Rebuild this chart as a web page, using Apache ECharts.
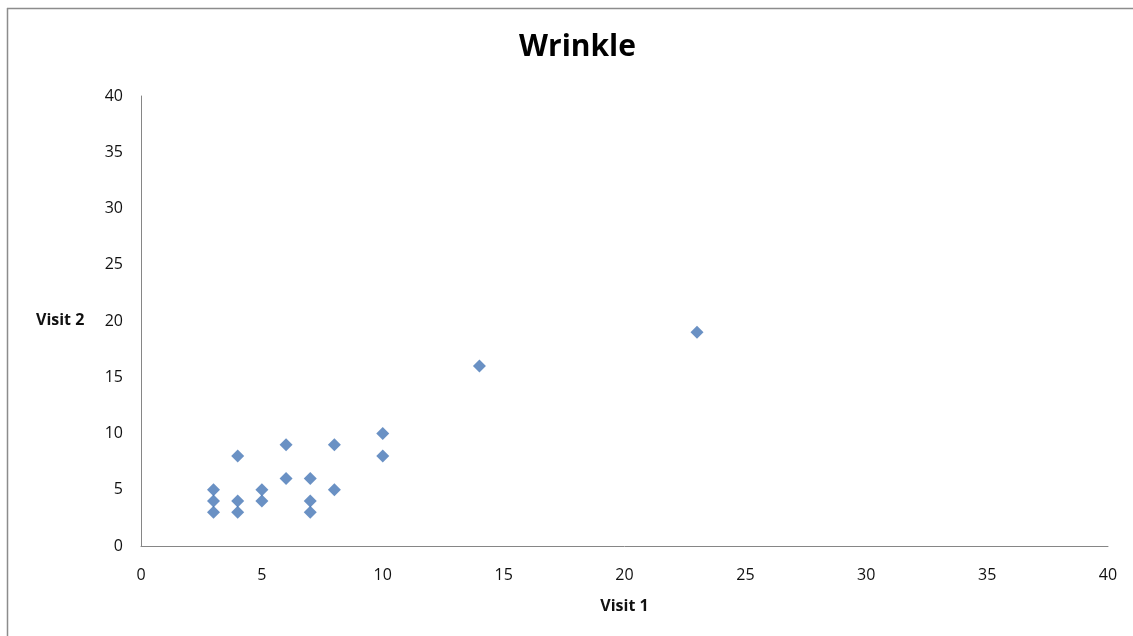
<!DOCTYPE html>
<html>
<head>
<meta charset="utf-8">
<script src="https://cdn.jsdelivr.net/npm/echarts@6/dist/echarts.min.js"></script>
<style>html,body{margin:0;padding:0;background:#fff}#c{width:1133px;height:636px}</style>
</head>
<body>
<div id="c"></div>
<script>
const visit1 = [3, 3, 3, 4, 4, 4, 5, 5, 6, 6, 7, 7, 7, 8, 8, 10, 10, 14, 23];
const visit2 = [3, 4, 5, 3, 4, 8, 4, 5, 6, 9, 3, 4, 6, 5, 9, 8, 10, 16, 19];
const chartTitle = 'Wrinkle';
const xName = 'Visit 1';
const yName = 'Visit 2';

const points = visit1.map((v, i) => [v, visit2[i]]);
const font = '"Open Sans", "Liberation Sans", sans-serif';
const chart = echarts.init(document.getElementById('c'));
chart.setOption({
  animation: false,
  title: {
    text: chartTitle, left: 514, top: 27,
    textStyle: {fontFamily: font, fontSize: 30, fontWeight: 'bold', color: '#000'}
  },
  grid: {left: 141, right: 25, top: 96, bottom: 90},
  xAxis: {
    type: 'value', min: 0, max: 40, interval: 5,
    name: xName, nameLocation: 'middle', nameGap: 52,
    nameTextStyle: {fontFamily: font, fontSize: 16, fontWeight: 'bold', color: '#111'},
    axisLine: {show: true, lineStyle: {color: '#868686', width: 1}},
    axisTick: {show: false},
    splitLine: {show: false},
    axisLabel: {fontFamily: font, fontSize: 16, color: '#111', margin: 21}
  },
  yAxis: {
    type: 'value', min: 0, max: 40, interval: 5,
    axisLine: {show: true, lineStyle: {color: '#868686', width: 1}},
    axisTick: {show: false},
    splitLine: {show: false},
    axisLabel: {fontFamily: font, fontSize: 16, color: '#111', margin: 18}
  },
  graphic: [
    {type: 'line', shape: {x1: 7.5, y1: 8, x2: 7.5, y2: 636}, style: {stroke: '#8c8c8c', lineWidth: 1.5}},
    {type: 'line', shape: {x1: 7, y1: 8.5, x2: 1133, y2: 8.5}, style: {stroke: '#8c8c8c', lineWidth: 1.5}},
    {type: 'text', left: 36, top: 312, style: {text: yName, font: 'bold 16px ' + font, fill: '#111'}}
  ],
  series: [{
    type: 'scatter', data: points, symbol: 'diamond', symbolSize: 13,
    itemStyle: {color: '#4576b5'}
  }]
});
</script>
</body>
</html>
